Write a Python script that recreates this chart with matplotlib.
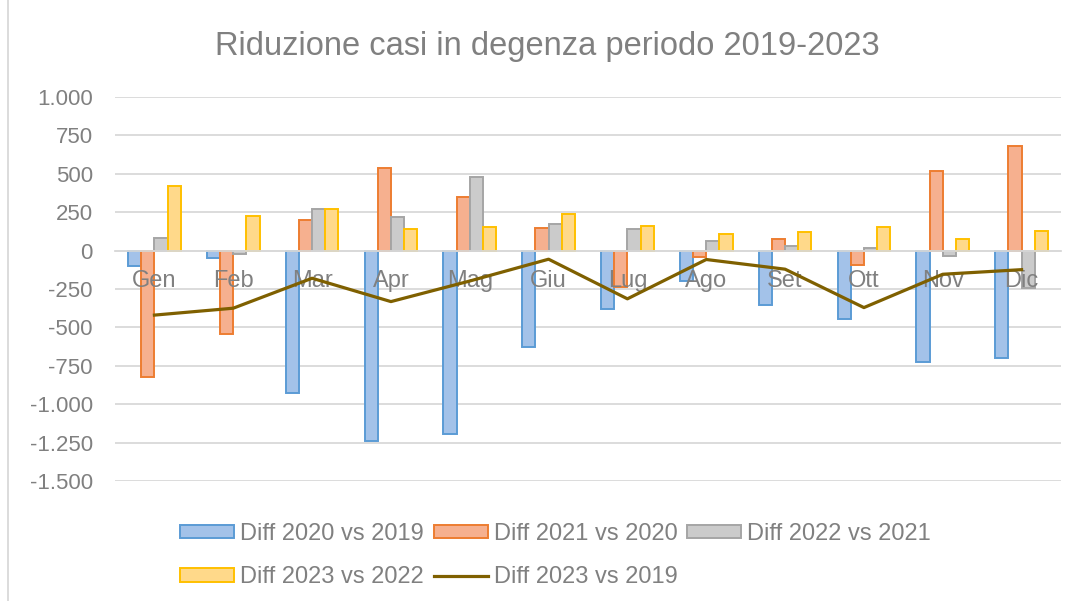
"""
    Riduzione casi in degenza 2019-2023 (grafico stile Excel)
"""
import numpy as np
import matplotlib
matplotlib.use("Agg")
import matplotlib.pyplot as plt
from matplotlib.lines import Line2D
from matplotlib.ticker import FuncFormatter

plt.rcParams['font.family'] = ['Liberation Sans', 'DejaVu Sans']

mesi = ["Gen", "Feb", "Mar", "Apr", "Mag", "Giu", "Lug", "Ago", "Set", "Ott", "Nov", "Dic"]
diff_2020_2019 = [-100, -45, -930, -1240, -1195, -625, -380, -200, -355, -445, -725, -700]
diff_2021_2020 = [-820, -540, 200, 540, 350, 150, -240, -40, 78, -95, 520, 680]
diff_2022_2021 = [80, -20, 270, 220, 480, 175, 140, 65, 28, 15, -35, -245]
diff_2023_2022 = [420, 225, 270, 138, 155, 240, 163, 110, 123, 152, 74, 130]
diff_2023_2019 = [-420, -375, -180, -332, -198, -56, -314, -58, -121, -371, -154, -124]

testo = "#808080"
griglia = "#d9d9d9"

fig = plt.figure(figsize=(10.82, 6.01), dpi=100)
ax = fig.add_axes([115/1082, 1-481/601, 946/1082, 384/601])

x = np.arange(len(mesi))
w = 0.167
serie = [
    (diff_2020_2019, "#a3c2e9", "#5b9bd5", "Diff 2020 vs 2019"),
    (diff_2021_2020, "#f6b08f", "#ed7d31", "Diff 2021 vs 2020"),
    (diff_2022_2021, "#cbcbcb", "#a5a5a5", "Diff 2022 vs 2021"),
    (diff_2023_2022, "#ffd98a", "#ffc000", "Diff 2023 vs 2022"),
]
barre = []
for i, (vals, fc, ec, lab) in enumerate(serie):
    b = ax.bar(x + (i - 1.5) * w, vals, w, color=fc, edgecolor=ec,
               linewidth=1.4, label=lab, zorder=1)
    barre.append(b)

linea, = ax.plot(x, diff_2023_2019, color="#7f6000", linewidth=2.3,
                 label="Diff 2023 vs 2019", zorder=2)

# griglia
ax.set_ylim(-1500, 1000)
ax.set_xlim(-0.5, len(mesi) - 0.5)
ticks = np.arange(-1500, 1001, 250)
ax.set_yticks(ticks)
for t in ticks:
    ax.axhline(t, color=griglia, linewidth=1.3, zorder=0.5)
ax.yaxis.set_major_formatter(FuncFormatter(lambda v, p: "{:,.0f}".format(v).replace(",", ".")))

for s in ["top", "right", "left"]:
    ax.spines[s].set_visible(False)
ax.spines["bottom"].set_position(("data", 0))
ax.spines["bottom"].set_color(griglia)
ax.spines["bottom"].set_linewidth(1.3)

ax.set_xticks(x)
ax.set_xticklabels(mesi)
ax.tick_params(axis="x", length=0, pad=14, labelsize=17, labelcolor=testo)
ax.tick_params(axis="y", length=0, pad=16, labelsize=16, labelcolor=testo)

fig.text(547/1082, 1-46/601, "Riduzione casi in degenza periodo 2019-2023",
         ha="center", va="center", fontsize=23.5, color=testo)

# legenda
h = [barre[0], barre[3], barre[1], linea, barre[2]]
l = [serie[0][3], serie[3][3], serie[1][3], "Diff 2023 vs 2019", serie[2][3]]
fig.legend(h, l, ncol=3, loc="upper left", bbox_to_anchor=(180/1082, 1-523/601),
           frameon=False, fontsize=17, labelcolor=testo, borderpad=0,
           borderaxespad=0, handlelength=2.29, handleheight=0.51,
           handletextpad=0.25, columnspacing=0.42, labelspacing=0.9)

fig.add_artist(Line2D([8/1082, 8/1082], [0, 1], color=griglia, linewidth=1.3))

plt.savefig("out.png", dpi=100)
